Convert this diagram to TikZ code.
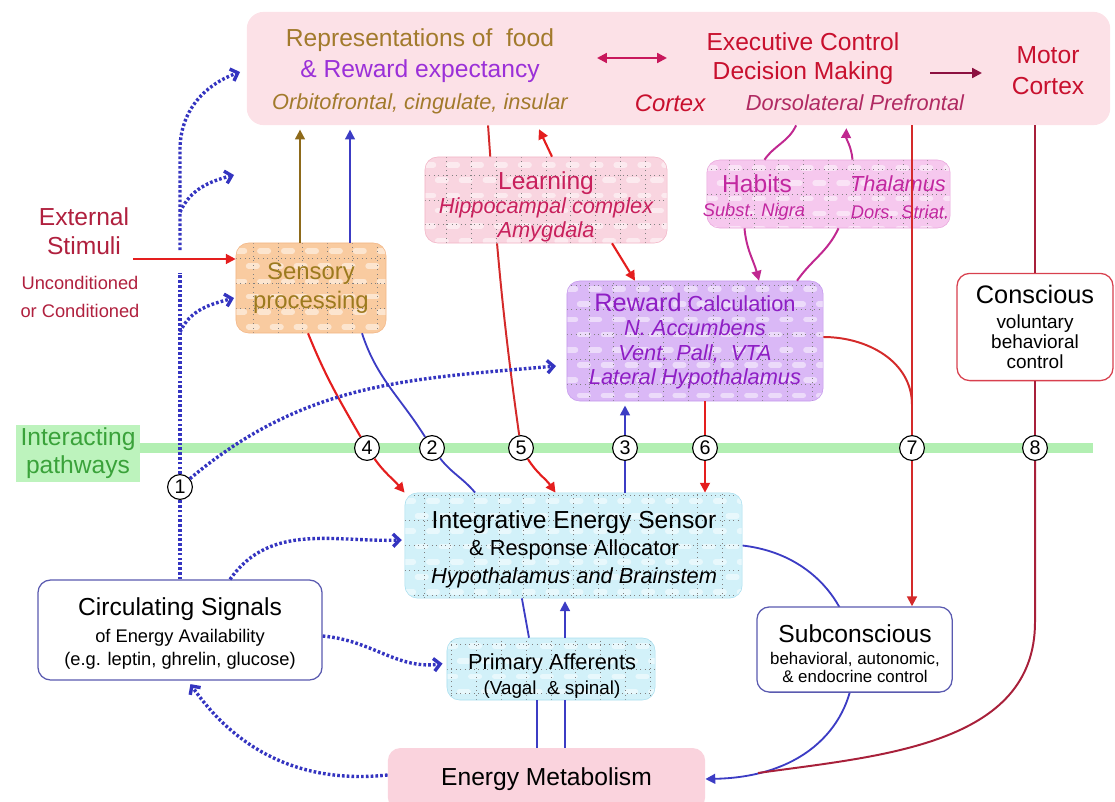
\documentclass[tikz,border=0pt]{standalone}
\usepackage{fontspec}
\setmainfont{Liberation Sans}
\usetikzlibrary{arrows.meta,positioning,calc}

\definecolor{cortexfill}{HTML}{FCE1E7}
\definecolor{energyfill}{HTML}{FAD3DD}
\definecolor{sensfill}{HTML}{F9CBA0}
\definecolor{sensline}{HTML}{F3B585}
\definecolor{learnfill}{HTML}{F9D5E0}
\definecolor{learnline}{HTML}{F2B4C6}
\definecolor{habfill}{HTML}{F6C8EE}
\definecolor{habline}{HTML}{E9A6DC}
\definecolor{rewfill}{HTML}{DAB8F6}
\definecolor{rewline}{HTML}{C598EC}
\definecolor{cyanfill}{HTML}{D2F1F9}
\definecolor{cyanline}{HTML}{A9DFEF}
\definecolor{greenfill}{HTML}{BDF3BD}
\definecolor{greenband}{HTML}{B2EFB2}
\definecolor{greentext}{HTML}{3AA23A}
\definecolor{browntext}{HTML}{A27A2C}
\definecolor{brownline}{HTML}{8E6A1A}
\definecolor{purpletext}{HTML}{9B30D8}
\definecolor{rewtext}{HTML}{8E1EC4}
\definecolor{cortexred}{HTML}{C8102E}
\definecolor{dlpftext}{HTML}{B02A62}
\definecolor{extred}{HTML}{B0203E}
\definecolor{senstext}{HTML}{9C7A1E}
\definecolor{learntext}{HTML}{C8205C}
\definecolor{habtext}{HTML}{C228A0}
\definecolor{habarrow}{HTML}{C02890}
\definecolor{arrred}{HTML}{E41E1E}
\definecolor{linered}{HTML}{D42A2A}
\definecolor{darkred}{HTML}{A8203A}
\definecolor{solidblue}{HTML}{3C3CC4}
\definecolor{dotblue}{HTML}{3434C0}
\definecolor{boxblue}{HTML}{5A5AB0}
\definecolor{consred}{HTML}{D8404E}
\definecolor{magarrow}{HTML}{C8185C}
\definecolor{motorarrow}{HTML}{8C1040}

\pgfdeclarelayer{background}
\pgfsetlayers{background,main}

\newcommand{\bigf}{\fontsize{17.5}{21}\selectfont}
\newcommand{\midf}{\fontsize{15.5}{18}\selectfont}

\tikzset{
  box/.style={rectangle, rounded corners=9pt, inner sep=0pt, align=center},
  plaid/.style={box, fill=#1, path picture={
      \foreach \k in {0,...,20}
        \draw[white, opacity=0.5, line width=4pt, line cap=round,
              dash pattern=on 6pt off 11pt, dash phase={mod(\k,2)*8pt}]
          ([yshift=-\k*0.38cm-0.2cm]path picture bounding box.north west)
          -- ([yshift=-\k*0.38cm-0.2cm]path picture bounding box.north east);
      \draw[black!50, line width=0.6pt, dash pattern=on 0.6pt off 2.6pt]
        (path picture bounding box.south west) grid[step=0.62cm]
        (path picture bounding box.north east);
    }},
  plainbox/.style={box, fill=white, line width=0.9pt},
  num/.style={circle, draw, fill=white, line width=0.8pt, minimum size=0.62cm,
    inner sep=0pt, font=\fontsize{14}{14}\selectfont},
  redarrow/.style={draw=arrred, line width=1.5pt, -{Triangle[length=7pt,width=7pt]}},
  redline/.style={draw=linered, line width=1.4pt},
  blueline/.style={draw=solidblue, line width=1.3pt},
  bluearrow/.style={blueline, -{Triangle[length=7pt,width=7pt]}},
  dotline/.style={draw=dotblue, line width=2.4pt, dash pattern=on 1.9pt off 1.5pt},
  dotarrow/.style={dotline, -{Straight Barb[length=4.5pt,width=9pt]}},
  magline/.style={draw=habarrow, line width=1.4pt},
  magarr/.style={magline, -{Triangle[length=7pt,width=7pt]}},
}

\begin{document}
\begin{tikzpicture}[x=0.025cm, y=-0.025cm]
  \useasboundingbox (0,0) rectangle (1115,801);
  % Cortex strip
  \node[box, fill=cortexfill, rounded corners=12pt, minimum width=21.58cm, minimum height=2.83cm] (cortex) at (678.5,68.5) {};
  \node[font=\fontsize{17.5}{22.3}\selectfont, text=browntext, align=center] (rep) at (420,71)
    {Representations of~ food\\{\color{purpletext}\& Reward expectancy}\\{\itshape\fontsize{15.5}{22.3}\selectfont Orbitofrontal, cingulate, insular}};
  \node[font=\fontsize{17.5}{20.5}\selectfont, text=cortexred, align=center] (exec) at (803,58.5) {Executive Control\\Decision Making};
  \node[font=\itshape\fontsize{17}{20}\selectfont, text=cortexred] (ctx) at (670,103) {Cortex};
  \node[font=\itshape\fontsize{15.5}{18}\selectfont, text=dlpftext] (dlpf) at (855,103) {Dorsolateral Prefrontal};
  \node[font=\fontsize{17.5}{22}\selectfont, text=cortexred, align=center] (motor) at (1048,70.5) {Motor\\Cortex};
  \coordinate (dl) at (597,58);
  \coordinate (dr) at (667,58);
  \coordinate (ml) at (930,73);
  \coordinate (mr) at (982,73);
  \draw[magarrow, line width=1.5pt, {Triangle[length=7pt,width=7pt]}-{Triangle[length=7pt,width=7pt]}] (dl) -- (dr);
  \draw[motorarrow, line width=1.5pt, -{Triangle[length=7pt,width=7pt]}] (ml) -- (mr);

  % Place boxes
  \node[font=\bigf, text=extred, align=center] (ext) at (84,231) {External\\Stimuli};
  \node[font=\fontsize{13}{19.9}\selectfont, text=extred, align=center] (cond) at (80,297) {Unconditioned\\or Conditioned};
  \node[plaid=sensfill, draw=sensline, minimum width=3.75cm, minimum height=2.25cm, text=senstext,
    font=\fontsize{17}{20.6}\selectfont] (sens) at (311,288) {Sensory\\processing};
  \node[plaid=learnfill, draw=learnline, minimum width=6.05cm, minimum height=2.15cm] (learn) at (546,200) {};
  \node[text=learntext, align=center, font=\fontsize{17.5}{16.9}\selectfont] (learntxt) at (546,207)
    {Learning\\{\itshape\midf Hippocampal complex}\\{\itshape\midf Amygdala}};
  \node[plaid=habfill, draw=habline, minimum width=6.08cm, minimum height=1.7cm] (habits) at (828.5,194) {};
  \node[font=\bigf, text=habtext] (hab) at (757,184) {Habits};
  \node[font=\itshape\midf, text=habtext] (thal) at (898,184) {Thalamus};
  \node[font=\itshape\fontsize{13}{15}\selectfont, text=habtext] (nigra) at (754,212) {Subst. Nigra};
  \node[font=\itshape\fontsize{13}{15}\selectfont, text=habtext] (striat) at (900,212) {Dors. Striat.};
  \node[plaid=rewfill, draw=rewline, minimum width=6.4cm, minimum height=3cm, text=rewtext,
    font=\fontsize{15.5}{17.2}\selectfont] (reward) at (695,341)
    {{\fontsize{18}{17.2}\selectfont Reward} Calculation\\{\itshape N. Accumbens}\\{\itshape Vent. Pall,~ VTA}\\{\itshape Lateral Hypothalamus}};
  \node[plainbox, draw=consred, minimum width=3.9cm, minimum height=2.68cm,
    font=\fontsize{13.5}{14.2}\selectfont] (consc) at (1035,327)
    {{\fontsize{18}{14.2}\selectfont Conscious}\\[3.5pt]voluntary\\behavioral\\control};
  \node[plaid=cyanfill, draw=cyanline, minimum width=8.43cm, minimum height=2.63cm] (integ) at (573.5,545.5) {};
  \node[align=center, font=\fontsize{17.5}{19.5}\selectfont] (integtxt) at (574,549)
    {Integrative Energy Sensor\\{\fontsize{15.5}{19.5}\selectfont\& Response Allocator}\\{\itshape\fontsize{15.5}{19.5}\selectfont Hypothalamus and Brainstem}};
  \node[plaid=cyanfill, draw=cyanline, minimum width=5.2cm, minimum height=1.55cm] (prim) at (551,669) {};
  \node[align=center, font=\fontsize{15.5}{17.7}\selectfont] (primtxt) at (552,676)
    {Primary Afferents\\{\fontsize{13.4}{17.7}\selectfont(Vagal~ \& spinal)}};
  \node[plainbox, draw=boxblue, minimum width=7.1cm, minimum height=2.5cm] (circ) at (180,630) {};
  \node[align=center, font=\fontsize{13}{16.3}\selectfont] (circtxt) at (180,633.5)
    {{\fontsize{17.5}{16.3}\selectfont Circulating Signals}\\[2.8pt]of Energy Availability\\(e.g. leptin, ghrelin, glucose)};
  \node[plainbox, draw=boxblue, minimum width=4.88cm, minimum height=2.13cm] (subc) at (854.5,649.5) {};
  \node[align=center, font=\fontsize{12}{12.8}\selectfont] (subctxt) at (855,653.5)
    {{\fontsize{17.5}{12.8}\selectfont Subconscious}\\[2.8pt]behavioral, autonomic,\\\& endocrine control};
  \node[box, fill=energyfill, minimum width=7.93cm, minimum height=1.55cm, font=\bigf] (energy) at (546.5,779) {Energy Metabolism};
  \node[box, rounded corners=0pt, fill=greenfill, minimum width=3.1cm, minimum height=1.43cm,
    text=greentext, font=\fontsize{17.5}{19.9}\selectfont] (glabel) at (78,453.5) {Interacting\\pathways};

  % Interacting band and numbered pathways
  \coordinate (bandend) at (1093,448);
  \begin{pgfonlayer}{background}
    \draw[greenband, line width=6.5pt] (glabel.east |- bandend) -- (bandend);
  \end{pgfonlayer}
  \node[num] (c1) at (180,487) {1};
  \node[num] (c4) at (367,448) {4};
  \node[num] (c2) at (432,448) {2};
  \node[num] (c5) at (521,448) {5};
  \node[num] (c3) at (625,448) {3};
  \node[num] (c6) at (705,448) {6};
  \node[num] (c7) at (912,448) {7};
  \node[num] (c8) at (1035,448) {8};

  % Draw edges
  \coordinate (extin) at (133,259);
  \draw[redarrow] (extin) -- (extin -| sens.west);
  \draw[brownline, line width=1.4pt, -{Triangle[length=7pt,width=7pt]}, shorten >=3pt]
    ([xshift=-0.275cm]sens.north) -- ([xshift=-0.275cm]sens.north |- cortex.south);
  \draw[bluearrow, shorten >=3pt] ([xshift=0.975cm]sens.north) -- ([xshift=0.975cm]sens.north |- cortex.south);
  % pathway 4 and 2
  \draw[redarrow, -] ([xshift=-0.075cm]sens.south) to[out=-68,in=120] (c4);
  \draw[redarrow] (c4) to[out=-55,in=130] (integ.north west);
  \draw[blueline] ([xshift=1.275cm]sens.south) to[out=-72,in=122] (c2);
  \draw[blueline] (c2) to[out=-52,in=130] ([xshift=-2.46cm]integ.north);
  % pathway 5 and learning
  \begin{pgfonlayer}{background}
    \draw[redline] ([xshift=-4.76cm]cortex.south) to[out=-86,in=98] (c5);
  \end{pgfonlayer}
  \draw[redarrow] (c5) to[out=-58,in=125] ([xshift=-0.45cm]integ.north);
  \draw[redarrow, shorten >=3pt] ([xshift=0.15cm]learn.north) -- ([xshift=-0.22cm]learn.north |- cortex.south);
  \draw[redarrow] ([xshift=1.65cm]learn.south) -- ([xshift=-1.5cm]reward.north);
  % habits loop
  \draw[magarr] ([xshift=-2.1cm]habits.south) to[out=-85,in=105] ([xshift=1.6cm]reward.north);
  \draw[magline] ([xshift=2.55cm]reward.north) to[out=55,in=-115] ([xshift=0.25cm]habits.south);
  \draw[magarr, shorten >=2pt] ([xshift=0.6cm]habits.north) to[out=95,in=-92] ([xshift=0.45cm]habits.north |- cortex.south);
  \draw[magline] ([xshift=-0.81cm]habits.north |- cortex.south) to[out=-115,in=55] ([xshift=-1.6cm]habits.north);
  % pathway 3 and 6
  \draw[blueline] (c3 |- integ.north) -- (c3);
  \draw[bluearrow, shorten >=3pt] (c3) -- (c3 |- reward.south);
  \draw[redarrow, -] (c6 |- reward.south) -- (c6);
  \draw[redarrow] (c6) -- (c6 |- integ.north);
  % pathway 7
  \coordinate (join7) at (912,405);
  \draw[redline] (c7 |- cortex.south) -- (c7);
  \draw[redline, -{Triangle[length=7pt,width=7pt]}] (c7) -- (c7 |- subc.north);
  \draw[redline] ([yshift=0.1cm]reward.east) to[out=0,in=90] (join7);
  % pathway 8
  \coordinate (bend8) at (1035,622);
  \coordinate (join8) at (758,773);
  \draw[darkred, line width=1.4pt] (c8 |- cortex.south) -- (consc.north);
  \draw[darkred, line width=1.4pt] (consc.south) -- (c8);
  \draw[darkred, line width=1.4pt] (c8) -- (bend8) to[out=-90,in=8] (join8);
  % energy loop
  \begin{pgfonlayer}{background}
    \draw[bluearrow] (integ.east) .. controls +(148,17) and +(195,-4) .. (energy.east);
  \end{pgfonlayer}
  \draw[blueline] ([xshift=-1.29cm]integ.south) -- ([xshift=-0.55cm]prim.north);
  \draw[bluearrow, shorten >=2pt] ([xshift=0.35cm]prim.north) -- ([xshift=0.35cm]prim.north |- integ.south);
  \draw[blueline] ([xshift=-0.35cm]prim.south) -- ([xshift=-0.35cm]prim.south |- energy.north);
  \draw[blueline] ([xshift=0.35cm]prim.south) -- ([xshift=0.35cm]prim.south |- energy.north);
  % circulating signals (dotted)
  \coordinate (vlow) at (180,273);
  \coordinate (vhigh) at (180,250);
  \coordinate (vtop) at (180,150);
  \coordinate (vbr1) at (180,332);
  \coordinate (vbr2) at (180,212);
  \coordinate (cxin) at (240,72);
  \coordinate (spin) at (234,175);
  \coordinate (sensin) at (234,298);
  \coordinate (rwin) at (556,366);
  \draw[dotline] (circ.north) -- (c1);
  \draw[dotline] (c1) -- (vlow);
  \draw[dotarrow] (vhigh) -- (vtop) to[out=90,in=200] (cxin);
  \draw[dotarrow] (vbr2) to[out=65,in=195] (spin);
  \draw[dotarrow] (vbr1) to[out=65,in=195] (sensin);
  \draw[dotarrow] (c1) to[out=40,in=185] (rwin);
  \draw[dotarrow, shorten >=2pt] ([xshift=1.25cm]circ.north) to[out=55,in=182] ([yshift=0.14cm]integ.west);
  \draw[dotarrow, shorten >=3pt] ([yshift=-0.15cm]circ.east) to[out=-5,in=188] ([yshift=0.15cm]prim.west);
  \draw[dotarrow, shorten >=3pt] ([yshift=0.1cm]energy.west) to[out=186,in=-55] ([xshift=0.2cm]circ.south);
\end{tikzpicture}
\end{document}
